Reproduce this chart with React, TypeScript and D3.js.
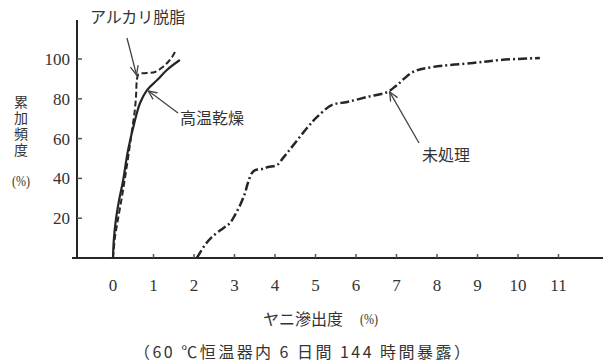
import { useEffect, useRef } from "react";
import * as d3 from "d3";

const W = 608;
const H = 363;
const MARGIN = { top: 20, right: 50, bottom: 105, left: 77 };

// x: ヤニ滲出度 (%), y: 累加頻度 (%)
const xTicks = [0, 1, 2, 3, 4, 5, 6, 7, 8, 9, 10, 11];
const yTicks = [20, 40, 60, 80, 100];

const koonKanso: [number, number][] = [
  [0, 0], [0.02, 9], [0.07, 19], [0.15, 29], [0.25, 39], [0.37, 54],
  [0.54, 69], [0.67, 78], [0.84, 84.4], [1.09, 89.4], [1.33, 94.5], [1.65, 99.5],
];

const alkaliDasshi: [number, number][] = [
  [0, 0], [0.05, 10.6], [0.12, 19.1], [0.22, 30.7], [0.3, 40.7], [0.4, 54.3],
  [0.47, 64.3], [0.54, 74.4], [0.57, 81.9], [0.59, 89.4], [0.63, 92.3],
  [0.84, 93], [1.04, 93.5], [1.23, 96], [1.36, 98.5], [1.46, 101], [1.53, 103.5],
];

const mishori: [number, number][] = [
  [2.07, 0], [2.27, 6.5], [2.44, 10.5], [2.72, 15], [2.89, 17.6], [3.01, 21.6],
  [3.14, 26.6], [3.26, 32.7], [3.33, 37.7], [3.43, 42.7], [3.51, 44.2],
  [3.68, 44.7], [3.83, 45.7], [4.05, 46.7], [4.2, 50.3], [4.32, 53.3],
  [4.79, 65.3], [5.04, 70.9], [5.41, 76.9], [5.78, 78.4], [6.27, 80.9],
  [6.77, 83.4], [7.01, 86.9], [7.41, 93.5], [7.9, 96], [8.89, 98],
  [9.56, 99.5], [10.54, 100.5],
];

const annotations = [
  { label: "アルカリ脱脂", target: [0.58, 92], tail: [127, 38], text: [90, 23] },
  { label: "高温乾燥", target: [0.87, 84], tail: [178, 113], text: [180, 124] },
  { label: "未処理", target: [6.83, 83.5], tail: [419, 143], text: [422, 161] },
];

export default function App() {
  const ref = useRef<SVGSVGElement>(null);

  useEffect(() => {
    const svg = d3.select(ref.current);
    svg.selectAll("*").remove();

    const x = d3.scaleLinear().domain([0, 11]).range([113, 558.5]);
    const y = d3.scaleLinear().domain([0, 100]).range([258, 59]);
    const ink = "#262626";
    const jp = "'Noto Sans CJK JP', sans-serif";
    const num = "'Liberation Serif', 'Times New Roman', serif";

    svg.append("rect").attr("width", W).attr("height", H).attr("fill", "#fff");

    const defs = svg.append("defs");
    defs
      .append("marker")
      .attr("id", "arr")
      .attr("viewBox", "0 0 10 10")
      .attr("refX", 9)
      .attr("refY", 5)
      .attr("markerWidth", 10)
      .attr("markerHeight", 10)
      .attr("markerUnits", "userSpaceOnUse")
      .attr("orient", "auto")
      .append("path")
      .attr("d", "M0,1 L9,5 L0,9")
      .attr("fill", "none")
      .attr("stroke", "#444")
      .attr("stroke-width", 1.3);

    // axes
    svg
      .append("line")
      .attr("x1", MARGIN.left)
      .attr("x2", MARGIN.left)
      .attr("y1", MARGIN.top)
      .attr("y2", y(0))
      .attr("stroke", ink)
      .attr("stroke-width", 2);
    svg
      .append("line")
      .attr("x1", 72)
      .attr("x2", W - 5)
      .attr("y1", y(0))
      .attr("y2", y(0))
      .attr("stroke", ink)
      .attr("stroke-width", 2);

    // y ticks
    const yg = svg.append("g");
    yTicks.forEach((t) => {
      yg.append("line")
        .attr("x1", MARGIN.left)
        .attr("x2", MARGIN.left + 5)
        .attr("y1", y(t))
        .attr("y2", y(t))
        .attr("stroke", "#555")
        .attr("stroke-width", 1.5);
      yg.append("text")
        .attr("x", 70)
        .attr("y", y(t))
        .attr("dy", "0.35em")
        .attr("text-anchor", "end")
        .attr("font-family", num)
        .attr("font-size", 17)
        .attr("fill", "#333")
        .text(t);
    });

    // x ticks
    const xg = svg.append("g");
    xTicks.forEach((t) => {
      xg.append("line")
        .attr("x1", x(t))
        .attr("x2", x(t))
        .attr("y1", y(0))
        .attr("y2", y(0) - 4)
        .attr("stroke", "#555")
        .attr("stroke-width", 1.5);
      xg.append("text")
        .attr("x", x(t))
        .attr("y", 285)
        .attr("dy", "0.35em")
        .attr("text-anchor", "middle")
        .attr("font-family", num)
        .attr("font-size", 17)
        .attr("fill", "#333")
        .text(t);
    });

    // curves
    const line = d3
      .line<[number, number]>()
      .x((d) => x(d[0]))
      .y((d) => y(d[1]))
      .curve(d3.curveCatmullRom.alpha(0.5));

    svg
      .append("path")
      .attr("d", line(alkaliDasshi))
      .attr("fill", "none")
      .attr("stroke", ink)
      .attr("stroke-width", 2)
      .attr("stroke-dasharray", "6,3");
    svg
      .append("path")
      .attr("d", line(koonKanso))
      .attr("fill", "none")
      .attr("stroke", ink)
      .attr("stroke-width", 2.2);
    svg
      .append("path")
      .attr("d", line(mishori))
      .attr("fill", "none")
      .attr("stroke", ink)
      .attr("stroke-width", 2.5)
      .attr("stroke-dasharray", "9,3,2,3");

    // annotations
    annotations.forEach((a) => {
      svg
        .append("line")
        .attr("x1", a.tail[0])
        .attr("y1", a.tail[1])
        .attr("x2", x(a.target[0]))
        .attr("y2", y(a.target[1]))
        .attr("stroke", "#444")
        .attr("stroke-width", 1.3)
        .attr("marker-end", "url(#arr)");
      svg
        .append("text")
        .attr("x", a.text[0])
        .attr("y", a.text[1])
        .attr("font-family", jp)
        .attr("font-size", 16)
        .attr("fill", "#333")
        .text(a.label);
    });

    // y title (vertical, one text)
    svg
      .append("text")
      .attr("x", 21)
      .attr("y", 95)
      .attr("writing-mode", "tb")
      .attr("font-family", jp)
      .attr("font-size", 14)
      .attr("letter-spacing", 2)
      .attr("fill", "#333")
      .text("累加頻度");
    svg
      .append("text")
      .attr("x", 21)
      .attr("y", 186)
      .attr("text-anchor", "middle")
      .attr("font-family", num)
      .attr("font-size", 14)
      .attr("fill", "#333")
      .attr("textLength", 18)
      .attr("lengthAdjust", "spacingAndGlyphs")
      .text("(%)");

    // x title
    svg
      .append("text")
      .attr("x", 263)
      .attr("y", 325)
      .attr("font-family", jp)
      .attr("font-size", 16)
      .attr("fill", "#333")
      .text("ヤニ滲出度");
    svg
      .append("text")
      .attr("x", 369)
      .attr("y", 324)
      .attr("text-anchor", "middle")
      .attr("font-family", num)
      .attr("font-size", 14)
      .attr("fill", "#333")
      .attr("textLength", 18)
      .attr("lengthAdjust", "spacingAndGlyphs")
      .text("(%)");

    svg
      .append("text")
      .attr("x", 134)
      .attr("y", 358)
      .attr("font-family", jp)
      .attr("font-size", 16)
      .attr("fill", "#333")
      .attr("textLength", 336)
      .attr("lengthAdjust", "spacing")
      .text("（60 ℃恒温器内 6 日間 144 時間暴露）");
  }, []);

  return (
    <svg
      ref={ref}
      width={W}
      height={H}
      style={{ position: "absolute", left: 0, top: 0, display: "block" }}
    />
  );
}
